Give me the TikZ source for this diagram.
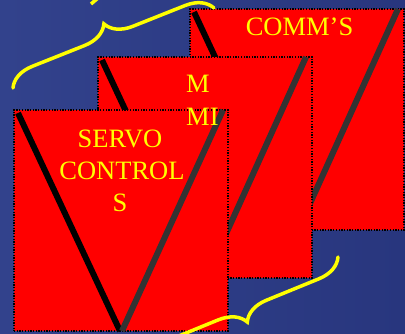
\documentclass[tikz,border=0pt]{standalone}
\usepackage{fontspec}
\setmainfont{Liberation Serif}
\usetikzlibrary{decorations.pathreplacing,calc}
\definecolor{bgblue}{RGB}{40,54,126}
\definecolor{bgblueL}{RGB}{50,66,140}
\definecolor{panelred}{RGB}{255,0,0}
\definecolor{diaggray}{RGB}{51,51,51}
\definecolor{txtyellow}{RGB}{255,255,0}
\begin{document}
\begin{tikzpicture}[x=1pt,y=-1pt,
  panel/.style={fill=panelred, draw=black, line width=1.3pt, dash pattern=on 1.3pt off 1.4pt,
                minimum width=214pt, minimum height=221pt, anchor=north west, inner sep=0pt, outer sep=0pt},
  leftdiag/.style={draw=black, line width=6pt},
  rightdiag/.style={draw=diaggray, line width=6pt},
  lbl/.style={text=txtyellow, font=\fontsize{26.5}{32}\selectfont, inner sep=0pt, anchor=base},
  bracey/.style={draw=txtyellow, line width=3.5pt, line cap=round, decorate, decoration={brace, amplitude=26pt}}]
\useasboundingbox (0,0) rectangle (405,334);
\shade[left color=bgblueL, right color=bgblue] (0,0) rectangle (405,334);

% back panel
\node[panel] (comms) at (190,9) {};
\draw[leftdiag] ($(comms.north west)+(4,3)$) -- ($(comms.south west)+(106,0)$);
\draw[rightdiag] ($(comms.north west)+(208,0)$) -- ($(comms.south west)+(108,0)$);

% middle panel
\node[panel] (mmi) at (98,57) {};
\draw[leftdiag] ($(mmi.north west)+(4,3)$) -- ($(mmi.south west)+(106,0)$);
\draw[rightdiag] ($(mmi.north west)+(208,0)$) -- ($(mmi.south west)+(108,0)$);

% front panel
\node[panel] (servo) at (14,110) {};
\draw[leftdiag] ($(servo.north west)+(4,3)$) -- ($(servo.south west)+(106,0)$);
\draw[rightdiag] ($(servo.north west)+(209,0)$) -- ($(servo.south west)+(108,0)$);

% labels
\node[lbl] (commsT) at (299.5,36) {COMM’S};
\node[lbl, anchor=base west] (mmiA) at (186,93) {M};
\node[lbl, anchor=base west] (mmiB) at (186,126) {MI};
\node[lbl] (servoA) at (120,148) {SERVO};
\node[lbl] (servoB) at (122,180) {CONTROL};
\node[lbl] (servoC) at (120,212) {S};

% braces
\coordinate (tb1) at (13,88);
\coordinate (tb2) at (214,8);
\draw[bracey] (tb1) -- (tb2);
\coordinate (bb1) at (338,257);
\coordinate (bb2) at (137,339);
\draw[bracey] (bb1) -- (bb2);
\coordinate (ys1) at (91,4);
\coordinate (ys2) at (98,-2);
\draw[draw=txtyellow, line width=3.5pt] (ys1) -- (ys2);
\end{tikzpicture}
\end{document}
